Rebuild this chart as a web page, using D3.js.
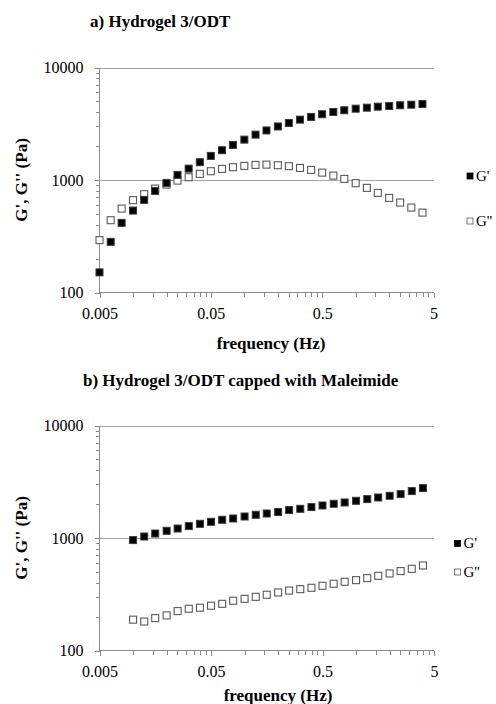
<!DOCTYPE html>
<html lang="en">
<head>
  <meta charset="UTF-8">
  <title>Hydrogel rheology</title>
  <style>
    body { margin: 0; background: #fff; }
  </style>
</head>
<body>
<div id="chart"></div>
<script src="https://cdn.jsdelivr.net/npm/d3@7"></script>
<script>
  // frequency sweep (Hz), 10 points per decade
  const freq = [0.005, 0.0063, 0.0079, 0.01, 0.0126, 0.0158, 0.02, 0.0251, 0.0316, 0.0398,
                0.05, 0.063, 0.079, 0.1, 0.126, 0.158, 0.2, 0.251, 0.316, 0.398,
                0.5, 0.63, 0.79, 1, 1.26, 1.58, 2, 2.51, 3.16, 3.98];

  // a) Hydrogel 3/ODT
  const gpA  = [151, 282, 416, 535, 666, 800, 942, 1110, 1262, 1439,
                1637, 1840, 2050, 2285, 2531, 2757, 2992, 3214, 3440, 3636,
                3842, 4025, 4168, 4305, 4396, 4487, 4550, 4616, 4672, 4740];
  const gppA = [292, 439, 557, 662, 748, 839, 910, 988, 1059, 1133,
                1197, 1255, 1300, 1335, 1362, 1370, 1353, 1327, 1281, 1229,
                1163, 1094, 1023, 937, 851, 768, 693, 630, 569, 513];

  // b) capped with Maleimide (starts at 0.01 Hz)
  const freqB = freq.slice(3);
  const gpB  = [958, 1031, 1096, 1159, 1214, 1276, 1337, 1393, 1452, 1491,
                1553, 1608, 1651, 1703, 1770, 1818, 1883, 1945, 2014, 2069,
                2141, 2217, 2291, 2372, 2456, 2612, 2777];
  const gppB = [188, 181, 194, 205, 224, 235, 240, 250, 260, 277,
                288, 300, 313, 328, 341, 351, 361, 376, 392, 408,
                422, 440, 461, 484, 508, 532, 570];

  const xTicks = [0.005, 0.05, 0.5, 5];
  const yTicks = [100, 1000, 10000];
  const seriesNames = ["G'", "G''"];

  const FONT = "Liberation Serif";
  const AXIS = '#8c8c8c', GRID = '#a6a6a6';

  const W = 496, H = 704;
  const svg = d3.select('#chart').append('svg')
    .attr('width', W).attr('height', H)
    .attr('font-family', FONT);

  const xMinor = xTicks.slice(0, -1).flatMap(m => d3.range(2, 10).map(k => m * k));
  const yMinor = yTicks.slice(0, -1).flatMap(m => d3.range(2, 10).map(k => m * k));

  function styleAxis(g) {
    g.attr('font-family', FONT).attr('font-size', 16);
    g.selectAll('line').attr('stroke', AXIS).attr('shape-rendering', 'crispEdges');
    g.selectAll('text').attr('fill', '#000');
    g.select('.domain').remove();
  }

  function label(x, y, txt, opts) {
    return svg.append('text')
      .attr('x', x).attr('y', y)
      .attr('font-family', FONT)
      .attr('font-size', opts.size || 17)
      .attr('font-weight', opts.bold ? 'bold' : 'normal')
      .attr('text-anchor', opts.anchor || 'start')
      .text(txt);
  }

  function panel(opt) {
    const x = d3.scaleLog().domain([0.005, 5]).range([99.5, opt.right]);
    const y = d3.scaleLog().domain([100, 10000]).range([opt.bottom, opt.top]);

    label(opt.titleX, opt.titleY, opt.title, { bold: true });

    // horizontal gridlines
    svg.append('g')
      .selectAll('line').data(yTicks.slice(1)).join('line')
      .attr('x1', x.range()[0]).attr('x2', x.range()[1])
      .attr('y1', d => Math.round(y(d)) + 0.5).attr('y2', d => Math.round(y(d)) + 0.5)
      .attr('stroke', GRID).attr('shape-rendering', 'crispEdges');

    // y axis
    const ya = svg.append('g')
      .attr('transform', 'translate(' + x.range()[0] + ',0)')
      .call(d3.axisLeft(y).tickValues(yTicks).tickFormat(d3.format('d'))
        .tickSize(5).tickPadding(11))
      .call(styleAxis);
    ya.append('line').attr('y1', opt.top).attr('y2', opt.bottom)
      .attr('stroke', AXIS).attr('shape-rendering', 'crispEdges');
    svg.append('g')
      .attr('transform', 'translate(' + x.range()[0] + ',0)')
      .call(d3.axisLeft(y).tickValues(yMinor).tickFormat('').tickSize(4))
      .call(styleAxis);

    // x axis
    const xa = svg.append('g')
      .attr('transform', 'translate(0,' + opt.bottom + ')')
      .call(d3.axisBottom(x).tickValues(xTicks).tickFormat(d => String(d))
        .tickSize(5).tickPadding(10))
      .call(styleAxis);
    xa.append('line').attr('x1', x.range()[0]).attr('x2', x.range()[1])
      .attr('stroke', AXIS).attr('shape-rendering', 'crispEdges');
    svg.append('g')
      .attr('transform', 'translate(0,' + opt.bottom + ')')
      .call(d3.axisBottom(x).tickValues(xMinor).tickFormat('').tickSize(4))
      .call(styleAxis);

    // axis titles
    label(opt.xlabelX, opt.xlabelY, 'frequency (Hz)', { bold: true, anchor: 'middle' });
    label(0, 0, "G', G'' (Pa)", { bold: true, anchor: 'middle' })
      .attr('transform', 'translate(27,' + (opt.top + opt.bottom) / 2 + ') rotate(-90)');

    // points
    const s = 7;
    svg.append('g').selectAll('rect')
      .data(opt.f.map((f, i) => [f, opt.gpp[i]])).join('rect')
      .attr('x', d => x(d[0]) - s / 2).attr('y', d => y(d[1]) - s / 2)
      .attr('width', s).attr('height', s)
      .attr('fill', '#fff').attr('stroke', '#595959').attr('stroke-width', 1.1);
    svg.append('g').selectAll('rect')
      .data(opt.f.map((f, i) => [f, opt.gp[i]])).join('rect')
      .attr('x', d => x(d[0]) - s / 2).attr('y', d => y(d[1]) - s / 2)
      .attr('width', s).attr('height', s)
      .attr('fill', '#000').attr('stroke', '#3a3a3a').attr('stroke-width', 1);

    // legend
    seriesNames.forEach((name, i) => {
      const ly = opt.legendY[i];
      svg.append('rect')
        .attr('x', opt.legendX).attr('y', ly - 3).attr('width', 6).attr('height', 6)
        .attr('fill', i === 0 ? '#000' : '#fff')
        .attr('stroke', i === 0 ? '#000' : '#595959').attr('stroke-width', 0.8);
      label(opt.legendX + 9, ly + 4.5, name, { size: 15 });
    });
  }

  panel({
    title: 'a) Hydrogel 3/ODT', titleX: 90, titleY: 27,
    top: 67.5, bottom: 292.5, right: 433.5,
    xlabelX: 271, xlabelY: 349,
    f: freq, gp: gpA, gpp: gppA,
    legendX: 467, legendY: [176, 221]
  });

  panel({
    title: 'b) Hydrogel 3/ODT capped with Maleimide', titleX: 83, titleY: 386,
    top: 425.5, bottom: 650.5, right: 434,
    xlabelX: 278, xlabelY: 701,
    f: freqB, gp: gpB, gpp: gppB,
    legendX: 454.5, legendY: [543.5, 572]
  });
</script>
</body>
</html>
